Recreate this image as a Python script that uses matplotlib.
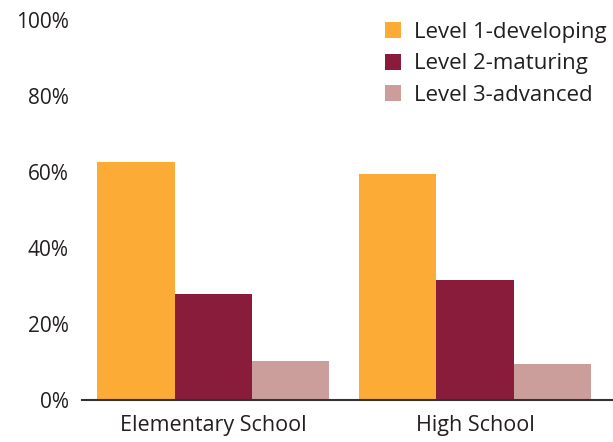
import matplotlib
matplotlib.use("Agg")
import matplotlib.pyplot as plt
from matplotlib.patches import Patch
import numpy as np

categories = ["Elementary School", "High School"]
levels = ["Level 1-developing", "Level 2-maturing", "Level 3-advanced"]
level1 = [62.5, 59.4]
level2 = [27.8, 31.5]
level3 = [10.1, 9.4]
colors = ["#FBAB36", "#8A1C3B", "#CB9E9C"]
yticks = [0, 20, 40, 60, 80, 100]
ytick_labels = ["0%", "20%", "40%", "60%", "80%", "100%"]

plt.rcParams["font.family"] = ["Open Sans", "DejaVu Sans"]

W, H = 613, 442
fig = plt.figure(figsize=(W / 100, H / 100), dpi=100)
left, right, bottom, top = 82, 613, 399.5, 20
ax = fig.add_axes([left / W, 1 - bottom / H, (right - left) / W, (bottom - top) / H])

x = np.arange(len(categories))
width = 0.2955
for i, (vals, col) in enumerate(zip([level1, level2, level3], colors)):
    ax.bar(x + (i - 1) * width, vals, width, color=col, label=levels[i], linewidth=0)

ax.set_xlim(-0.502, 1.5275)
ax.set_ylim(0, 100)
ax.set_yticks(yticks)
ax.set_yticklabels(ytick_labels, fontsize=15, color="#231F20")
ax.set_xticks(x)
ax.set_xticklabels(categories, fontsize=15.5, color="#231F20")
ax.tick_params(axis="both", length=0)
ax.tick_params(axis="y", pad=9.5)
ax.tick_params(axis="x", pad=11)
for s in ["top", "right", "left"]:
    ax.spines[s].set_visible(False)
ax.spines["bottom"].set_color("#333333")
ax.spines["bottom"].set_linewidth(1.5)
ax.spines["bottom"].set_clip_on(False)

handles = [Patch(facecolor=c, edgecolor="none") for c in colors]
fig.legend(handles, levels, loc="upper left", bbox_to_anchor=(385 / W, 1 - 22 / H),
           frameon=False, fontsize=16, handlelength=0.72, handleheight=0.72,
           handletextpad=0.6, labelspacing=0.47, borderpad=0, borderaxespad=0,
           labelcolor="#231F20")

fig.savefig("out.png", dpi=100)
